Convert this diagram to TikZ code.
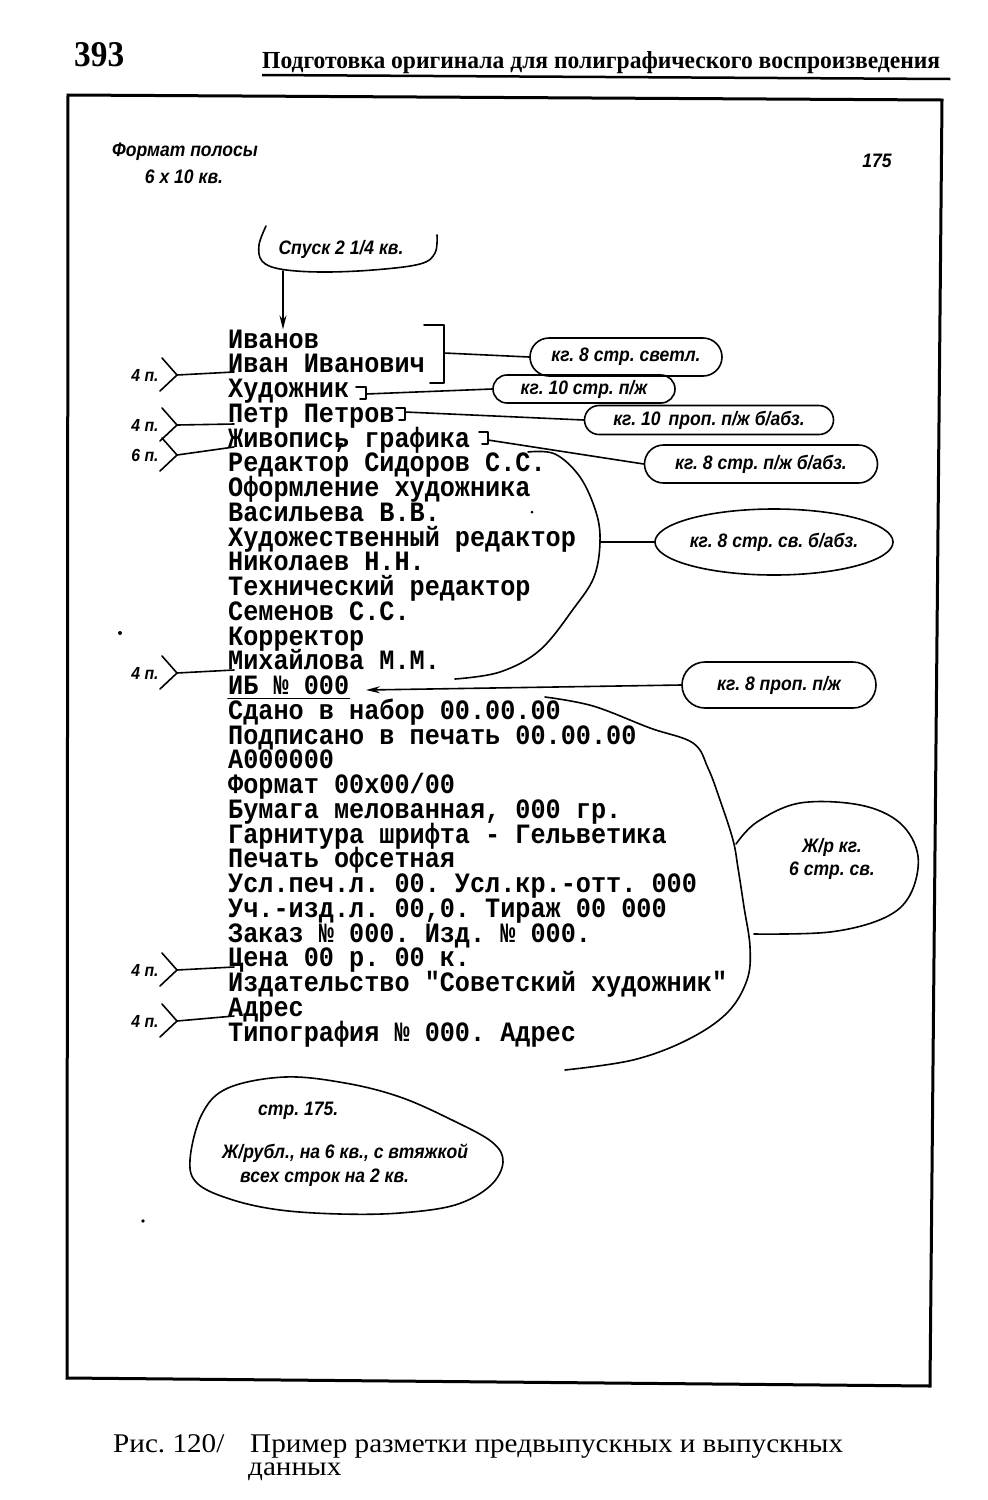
\documentclass[tikz,border=0pt]{standalone}
\usepackage{fontspec}
\usepackage{graphicx}
\setmainfont{Liberation Serif}
\newfontfamily\twfont[FakeStretch=0.9,WordSpace={1,0,0},PunctuationSpace=1]{Liberation Mono}
\newfontfamily\afont[FakeStretch=0.9]{Liberation Sans}
\newfontfamily\serfont{Liberation Serif}
\newfontfamily\capfont[FakeStretch=1.08]{Liberation Serif}
\usetikzlibrary{shapes.misc,shapes.geometric,arrows.meta,calc}
\frenchspacing
\tikzset{
  tw/.style={font=\twfont\bfseries\fontsize{28}{28}\selectfont\frenchspacing, anchor=base west, inner sep=0pt},
  ann/.style={font=\afont\bfseries\itshape\fontsize{19.5}{19.5}\selectfont, inner sep=0pt},
  smallann/.style={font=\afont\bfseries\itshape\fontsize{17.5}{17.5}\selectfont, inner sep=0pt},
  pen/.style={line width=1.6pt, line cap=round, line join=round},
  rbox/.style={draw, pen, rounded rectangle, inner sep=0pt, font=\afont\bfseries\itshape\fontsize{19.5}{19.5}\selectfont},
  ebox/.style={draw, pen, ellipse, inner sep=0pt, font=\afont\bfseries\itshape\fontsize{19.5}{19.5}\selectfont},
  captext/.style={anchor=base west, inner sep=0pt, font=\capfont\fontsize{27}{27}\selectfont},
  tip/.style={-{Stealth[length=14pt,width=7pt]}},
}
\newcommand\chevmark[4]{%
  \node[smallann] (#1t) at (145,#2) {#3};
  \coordinate (#1a) at (177,#2);
  \coordinate (#1e) at (234,#4);
  \draw[pen] (162,#2-17) -- (#1a) -- (160,#2+16);
  \draw[pen] (#1a) -- (#1e);
}
\begin{document}
\begin{tikzpicture}[x=1pt,y=-1pt]
\useasboundingbox (0,0) rectangle (988,1500);
\fill[white] (0,0) rectangle (988,1500);

% header
\node[anchor=base west, inner sep=0pt] (pgnum) at (74,66)
  {\resizebox{50pt}{24pt}{\serfont\bfseries\fontsize{34}{34}\selectfont 393}};
\node[anchor=base west, inner sep=0pt] (runhead) at (262,68)
  {\resizebox{678pt}{17pt}{\serfont\bfseries\fontsize{24}{24}\selectfont Подготовка оригинала для полиграфического воспроизведения}};
\draw[line width=2.5pt] ($(runhead.base west)+(0,7)$) coordinate (ul1) -- ($(runhead.base east)+(10,11)$) coordinate (ul2);

% frame
\draw[line width=3pt, line join=miter] (68,95) coordinate (fr1) -- (942,100) coordinate (fr2) -- (930,1386) coordinate (fr3) -- (67,1378) coordinate (fr4) -- cycle;

% top notes
\node[ann] (fmt1) at (185,152) {Формат полосы};
\node[ann] (fmt2) at (184,177) {6 x 10 кв.};
\node[ann] (pg175) at (877,161) {175};

% spusk
\node[ann] (spusk) at (341,249) {Спуск 2 1/4 кв.};
\draw[pen] plot[smooth, tension=0.6] coordinates {(266,226) (259,245) (262,261) (280,269) (320,272) (373,270) (420,264) (435,253) (437,235)};
\coordinate (spbot) at (283,271);

% typewriter lines
\node[tw] (l0) at (228,348) {Иванов};
\node[tw] (l1) at (228,372.75) {Иван Иванович};
\node[tw] (l2) at (228,397.5) {Художник};
\node[tw] (l3) at (228,422.25) {Петр Петров};
\node[tw] (l4) at (228,447) {Живопись\llap{,} графика};
\node[tw] (l5) at (228,471.75) {Редактор Сидоров С.С.};
\node[tw] (l6) at (228,496.5) {Оформление художника};
\node[tw] (l7) at (228,521.25) {Васильева В.В.};
\node[tw] (l8) at (228,546) {Художественный редактор};
\node[tw] (l9) at (228,570.75) {Николаев Н.Н.};
\node[tw] (l10) at (228,595.5) {Технический редактор};
\node[tw] (l11) at (228,620.25) {Семенов С.С.};
\node[tw] (l12) at (228,645) {Корректор};
\node[tw] (l13) at (228,669.75) {Михайлова М.М.};
\node[tw] (l14) at (228,694.5) {ИБ № 000};
\node[tw] (l15) at (228,719.25) {Сдано в набор 00.00.00};
\node[tw] (l16) at (228,744) {Подписано в печать 00.00.00};
\node[tw] (l17) at (228,768.75) {А000000};
\node[tw] (l18) at (228,793.5) {Формат 00х00/00};
\node[tw] (l19) at (228,818.25) {Бумага мелованная, 000 гр.};
\node[tw] (l20) at (228,843) {Гарнитура шрифта - Гельветика};
\node[tw] (l21) at (228,867.75) {Печать офсетная};
\node[tw] (l22) at (228,892.5) {Усл.печ.л. 00. Усл.кр.-отт. 000};
\node[tw] (l23) at (228,917.25) {Уч.-изд.л. 00,0. Тираж 00 000};
\node[tw] (l24) at (228,942) {Заказ № 000. Изд. № 000.};
\node[tw] (l25) at (228,966.75) {Цена 00 р. 00 к.};
\node[tw] (l26) at (228,991.5) {Издательство "Советский художник"};
\node[tw] (l27) at (228,1016.25) {Адрес};
\node[tw] (l28) at (228,1041) {Типография № 000. Адрес};

% arrow from spusk to first line
\draw[pen, tip] (spbot) -- (spbot |- l0.north);

% underline of IB
\draw[pen] ($(l14.base west)+(0,4)$) -- ($(l14.base east)+(0,4)$);

% annotation boxes
\node[rbox, minimum width=192pt, minimum height=38pt] (o1) at (626,357) {кг. 8 стр. светл.};
\node[rbox, minimum width=182pt, minimum height=28pt] (o2) at (584,389) {кг. 10 стр. п/ж};
\node[rbox, minimum width=249pt, minimum height=29pt] (o3) at (709,420) {кг. 10\, проп. п/ж б/абз.};
\node[rbox, minimum width=233pt, minimum height=38pt] (o4) at (761,464) {кг. 8 стр. п/ж б/абз.};
\node[ebox, minimum width=232pt, minimum height=66pt] (o5) at (774,542) {кг. 8 стр. св. б/абз.};
\node[rbox, minimum width=194pt, minimum height=46pt] (o6) at (779,685) {кг. 8 проп. п/ж};

% brackets
\draw[pen] (424,325) -- (444,325) -- (444,383) -- (430,383);
\coordinate (br1) at (444,353);
\draw[pen] (o1.west) -- (br1);

\draw[pen] (356,387) -- (366,387) -- (366,399) -- (360,399);
\coordinate (br2) at (366,394);
\draw[pen] (br2) -- (o2.west);

\draw[pen] (396,408) -- (405,408) -- (405,420) -- (399,420);
\coordinate (br3) at (405,412);
\draw[pen] (br3) -- (o3.west);

\draw[pen] (479,432) -- (488,432) -- (488,444) -- (482,444);
\coordinate (br4) at (488,440);
\draw[pen] (br4) -- (o4.west);

% big curve H
\draw[pen] plot[smooth, tension=0.6] coordinates {(528,452) (555,454) (580,477) (596,512) (600,542) (594,577) (574,608) (540,650) (500,672) (455,679)};
\coordinate (hr) at (600,542);
\draw[pen] (hr) -- (o5.west);

% arrow to IB
\coordinate (ibtip) at (366,690);
\draw[pen, tip] (o6.west) -- (ibtip);

% big curve J
\draw[pen] plot[smooth, tension=0.6] coordinates {(545,697) (593,706) (650,728) (693,743) (708,768) (720,800) (733,840) (738,868) (744,907) (750,947) (747,980) (727,1013) (687,1040) (633,1060) (565,1070)};

% lobe
\draw[pen] plot[smooth, tension=0.6] coordinates {(736,844) (757,822) (800,803) (860,805) (900,823) (918,856) (910,895) (884,918) (830,932) (754,934)};
\node[ann] (o7a) at (832,847) {Ж/р кг.};
\node[ann] (o7b) at (832,871) {6 стр. св.};

% chevrons
\chevmark{c1}{375}{4 п.}{372}
\chevmark{c2}{425}{4 п.}{424}
\chevmark{c3}{455}{6 п.}{447}
\chevmark{c4}{673}{4 п.}{670}
\chevmark{c5}{970}{4 п.}{967}
\chevmark{c6}{1021}{4 п.}{1016}

% bottom egg
\draw[pen] plot[smooth cycle, tension=0.6] coordinates {(190,1160) (202,1114) (228,1088) (285,1077) (345,1083) (400,1097) (452,1120) (492,1142) (503,1162) (490,1186) (455,1205) (400,1213) (340,1214) (280,1210) (233,1200) (198,1184)};
\node[ann, anchor=west] (k1) at (258,1111) {стр. 175.};
\node[ann, anchor=west] (k2) at (222,1153) {Ж/рубл., на 6 кв., с втяжкой};
\node[ann, anchor=west] (k3) at (240,1178) {всех строк на 2 кв.};

% stray dots
\fill (120,633) circle (2pt);
\fill (143,1221) circle (1.8pt);
\fill (532,512) circle (1.5pt);

% caption
\node[captext] (cap1) at (113,1452) {Рис. 120/};
\node[captext] (cap2) at (250,1452) {Пример разметки предвыпускных и выпускных};
\node[captext] (cap3) at (248,1475) {данных};
\end{tikzpicture}
\end{document}
